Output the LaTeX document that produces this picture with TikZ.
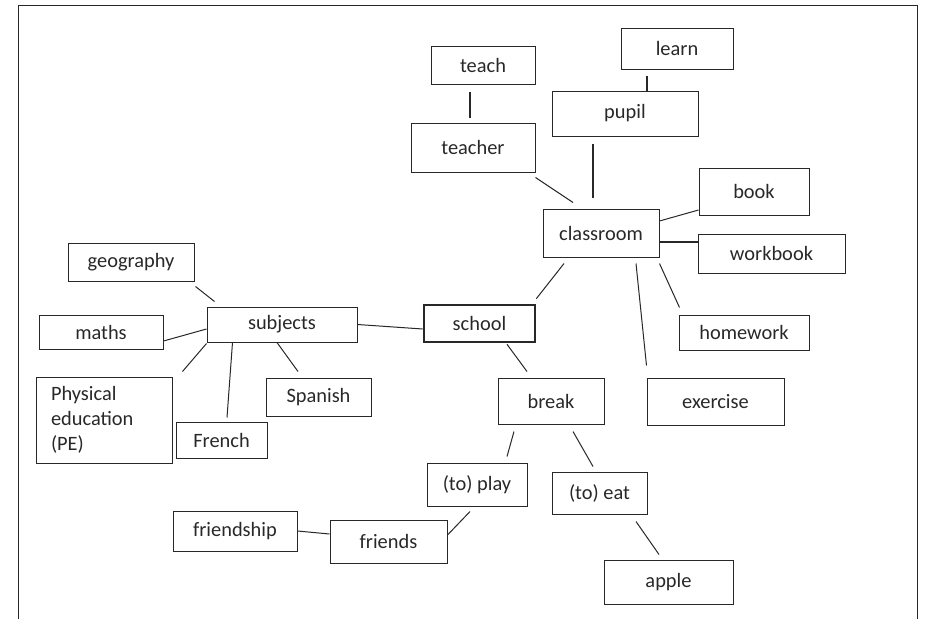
\documentclass[tikz,border=0pt]{standalone}
\usepackage{fontspec}
\setmainfont{Carlito}
\definecolor{ink}{RGB}{40,40,40}

\begin{document}
\begin{tikzpicture}[
  x=1pt, y=-1pt,
  box/.style = {draw=ink, line width=1pt, text=ink, inner sep=0pt,
    font=\fontsize{20.4}{25}\selectfont},
  hub/.style = {box, line width=2.6pt},
  link/.style = {ink, line width=1pt},
  bold link/.style = {ink, line width=1.8pt},
]

  \useasboundingbox (0,0) rectangle (935,619);

  % frame, open at the bottom
  \draw[ink, line width=1pt] (18,619) |- (917,5) -- (917,619);

  % classroom branch
  \node[box, minimum width=112, minimum height=41] (learn) at (677,48.5) {learn};
  \node[box, minimum width=104, minimum height=38] (teach) at (483,65) {teach};
  \node[box, minimum width=146, minimum height=45] (pupil) at (625,113.5) {pupil};
  \node[box, minimum width=124, minimum height=49] (teacher) at (473,147.5) {teacher};
  \node[box, minimum width=110, minimum height=47] (book) at (754,191.5) {book};
  \node[box, minimum width=116, minimum height=48] (classroom) at (601,233) {classroom};
  \node[box, minimum width=147, minimum height=39] (workbook) at (771.5,253.5) {workbook};
  \node[box, minimum width=130, minimum height=35] (homework) at (744,332.5) {homework};
  \node[box, minimum width=137, minimum height=47] (exercise) at (715.5,401.5) {exercise};

  % centre
  \node[hub, minimum width=111, minimum height=37] (school) at (479.5,323.5) {school};

  % subjects branch
  \node[box, minimum width=126, minimum height=38] (geography) at (131,262) {geography};
  \node[box, minimum width=124, minimum height=34] (maths) at (101,332) {maths};
  \node[box, minimum width=150, minimum height=35] (subjects) at (282,324.5) {subjects};
  \node[box, minimum width=136, minimum height=86, text width=106, align=left]
    (pe) at (104,420) {Physical\\education\\(PE)};
  \node[box, minimum width=105, minimum height=38] (spanish) at (318.5,397) {Spanish};
  \node[box, minimum width=91, minimum height=36] (french) at (221.5,440) {French};

  % break branch
  \node[box, minimum width=106, minimum height=46] (break) at (551,401) {break};
  \node[box, minimum width=100, minimum height=43] (play) at (477,484.5) {(to) play};
  \node[box, minimum width=95, minimum height=42] (eat) at (599.5,493) {(to) eat};
  \node[box, minimum width=124, minimum height=40] (friendship) at (235,531) {friendship};
  \node[box, minimum width=117, minimum height=43] (friends) at (388.5,541.5) {friends};
  \node[box, minimum width=129, minimum height=44] (apple) at (668.5,582) {apple};

  % connectors
  \draw[bold link] ([shift={(-30,6)}]learn.south) -- ([shift={(22,0)}]pupil.north);
  \draw[bold link] ([shift={(-13,7)}]teach.south) -- ([shift={(-3,-5)}]teacher.north);
  \draw[link] ([shift={(0,5)}]teacher.south east) -- ([shift={(-28,-6)}]classroom.north);
  \draw[bold link] ([shift={(-32,7)}]pupil.south) -- ([shift={(-8,-11)}]classroom.north);
  \draw[link] ([shift={(0,-12)}]classroom.east) -- ([shift={(0,18.5)}]book.west);
  \draw[bold link] ([shift={(0,9)}]classroom.east) -- ([shift={(0,-11.5)}]workbook.west);
  \draw[link] ([shift={(-37,6)}]classroom.south) -- ([shift={(0,-5)}]school.north east);
  \draw[link] ([shift={(35,6)}]classroom.south) -- ([shift={(0,-12)}]exercise.north west);
  \draw[link] ([shift={(0,6)}]classroom.south east) -- ([shift={(1,-7)}]homework.north west);

  \draw[link] ([shift={(1,5)}]geography.south east) -- ([shift={(8,-5)}]subjects.north west);
  \draw[link] ([shift={(0,9)}]maths.east) -- ([shift={(0,4.5)}]subjects.west);
  \draw[link] (subjects.east) -- ([shift={(0,5.5)}]school.west);
  \draw[link] ([shift={(0,1)}]subjects.south west) -- ([shift={(10,-5)}]pe.north east);
  \draw[link] ([shift={(26,0)}]subjects.south west) -- ([shift={(5.5,-4)}]french.north);
  \draw[link] ([shift={(-5,0)}]subjects.south) -- ([shift={(-20.5,-6)}]spanish.north);

  \draw[link] ([shift={(27.5,1)}]school.south) -- ([shift={(-24,-6)}]break.north);
  \draw[link] ([shift={(-37,7)}]break.south) -- ([shift={(30,-6)}]play.north);
  \draw[link] ([shift={(22,7)}]break.south) -- ([shift={(-6.5,-5)}]eat.north);
  \draw[link] ([shift={(-7,5)}]play.south) -- ([shift={(0,-6.5)}]friends.east);
  \draw[link] (friendship.east) -- ([shift={(0,-7.5)}]friends.west);
  \draw[link] ([shift={(36.5,7)}]eat.south) -- ([shift={(-9.5,-5)}]apple.north);

\end{tikzpicture}
\end{document}
